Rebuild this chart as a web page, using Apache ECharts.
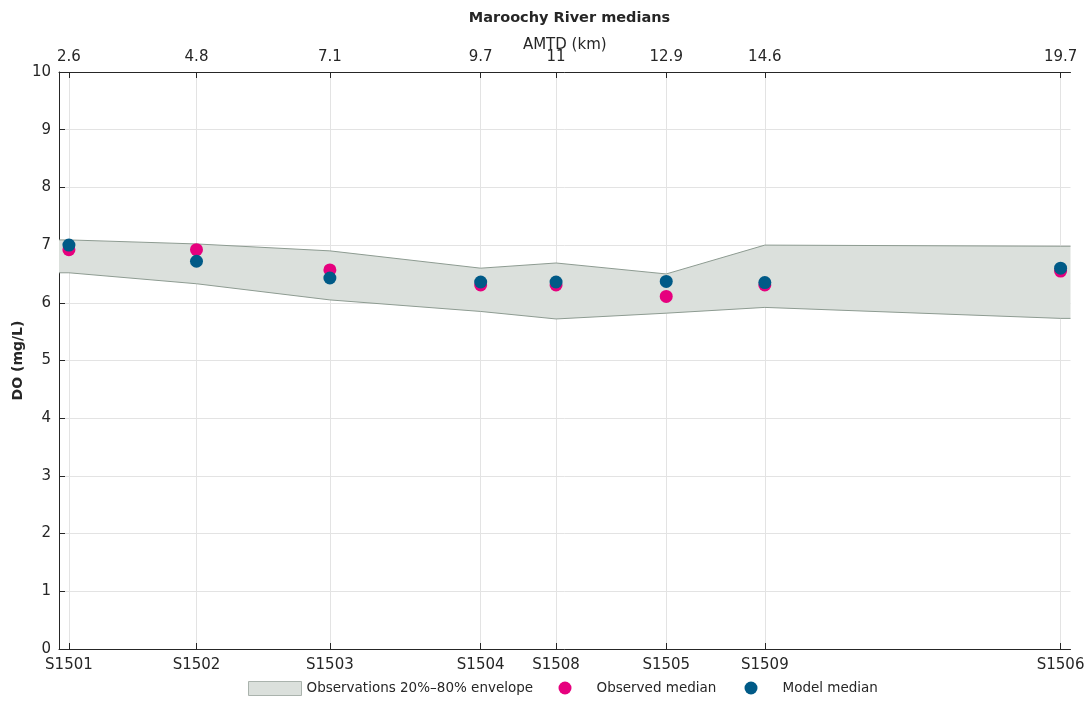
<!DOCTYPE html>
<html><head><meta charset="utf-8">
<script src="https://cdn.jsdelivr.net/npm/echarts@6/dist/echarts.min.js"></script>
<style>html,body{margin:0;padding:0;background:#fff}#c{width:1089px;height:702px}</style>
</head><body><div id="c"></div>
<script>
const sites = ['S1501','S1502','S1503','S1504','S1508','S1505','S1509','S1506'];
const amtd = [2.6, 4.8, 7.1, 9.7, 11, 12.9, 14.6, 19.7];
const envUpper = [7.09, 7.02, 6.90, 6.60, 6.69, 6.50, 7.00, 6.98];
const envLower = [6.52, 6.33, 6.05, 5.85, 5.72, 5.82, 5.92, 5.73];
const observedMedian = [6.92, 6.92, 6.57, 6.31, 6.31, 6.11, 6.31, 6.55];
const modelMedian = [7.00, 6.72, 6.43, 6.36, 6.36, 6.37, 6.35, 6.60];
const yTicks = [0,1,2,3,4,5,6,7,8,9,10];

const pad = (amtd[amtd.length-1]-amtd[0])*0.01;
const xMin = amtd[0]-pad, xMax = amtd[amtd.length-1]+pad;
const FONT = 'DejaVu Sans';
const TXT = '#262626';
const FS = 15;

// envelope extended flat to axis edges
const envX = [xMin].concat(amtd, [xMax]);
const envU = [envUpper[0]].concat(envUpper, [envUpper[envUpper.length-1]]);
const envL = [envLower[0]].concat(envLower, [envLower[envLower.length-1]]);

const chart = echarts.init(document.getElementById('c'), null, {renderer:'canvas'});
const siteOf = v => { const i = amtd.findIndex(a => Math.abs(a - v) < 1e-6); return i >= 0 ? sites[i] : ''; };

chart.setOption({
  animation:false,
  textStyle:{fontFamily:FONT},
  title:{text:'Maroochy River medians', left:564.5, textAlign:'center', top:6,
    textStyle:{fontFamily:FONT, fontSize:14.5, fontWeight:'bold', color:TXT}},
  grid:{left:59, right:18.5, top:72, bottom:53, containLabel:false, outerBoundsMode:'none'},
  xAxis:[{
    type:'value', position:'bottom', min:xMin, max:xMax,
    axisLine:{show:true, onZero:false, lineStyle:{color:'#262626', width:1}},
    axisTick:{show:true, inside:true, length:6, customValues:amtd, lineStyle:{color:'#262626'}},
    axisLabel:{inside:false, customValues:amtd, formatter:v=>siteOf(v), fontSize:FS, color:TXT, margin:9, fontFamily:FONT},
    splitLine:{show:true, lineStyle:{color:'#e3e3e3', width:1}}
  },{
    type:'value', position:'top', min:xMin, max:xMax,
    name:'AMTD (km)', nameLocation:'middle', nameGap:19, nameMoveOverlap:false,
    nameTextStyle:{fontSize:FS, color:TXT, fontFamily:FONT},
    axisLine:{show:true, onZero:false, lineStyle:{color:'#262626', width:1}},
    axisTick:{show:true, inside:true, length:6, customValues:amtd, lineStyle:{color:'#262626'}},
    axisLabel:{inside:false, customValues:amtd, formatter:v=>String(v), fontSize:FS, color:TXT, margin:7, fontFamily:FONT},
    splitLine:{show:false}
  }],
  yAxis:{
    type:'value', position:'left', min:0, max:10, interval:1,
    name:'DO (mg/L)', nameLocation:'middle', nameGap:34, nameRotate:90, nameMoveOverlap:false,
    nameTextStyle:{fontSize:14, fontWeight:'bold', color:TXT, fontFamily:FONT},
    axisLine:{show:true, onZero:false, lineStyle:{color:'#262626', width:1}},
    axisTick:{show:true, inside:true, length:6, lineStyle:{color:'#262626'}},
    axisLabel:{inside:false, fontSize:FS, color:TXT, margin:8, fontFamily:FONT, formatter:v=>yTicks.includes(v)?String(v):''},
    splitLine:{show:true, lineStyle:{color:'#e3e3e3', width:1}}
  },
  legend:[
    {data:[{name:'Observations 20%–80% envelope', icon:'rect', itemStyle:{color:'#dbe0dc', borderColor:'#aab3ad', borderWidth:1}}],
      left:248, top:681, padding:0, itemWidth:53, itemHeight:14, itemGap:0,
      textStyle:{fontSize:13.5, color:TXT, fontFamily:FONT}, selectedMode:false},
    {data:[{name:'Observed median', icon:'circle'}], left:558.5, top:681, padding:0, itemWidth:53, itemHeight:13, itemGap:0,
      textStyle:{fontSize:13.5, color:TXT, fontFamily:FONT}, selectedMode:false},
    {data:[{name:'Model median', icon:'circle'}], left:744.5, top:681, padding:0, itemWidth:53, itemHeight:13, itemGap:0,
      textStyle:{fontSize:13.5, color:TXT, fontFamily:FONT}, selectedMode:false}
  ],
  series:[
    {
      name:'Observations 20%–80% envelope', type:'custom', xAxisIndex:0, yAxisIndex:0,
      clip:true, silent:true,
      itemStyle:{color:'#dbe0dc', borderColor:'#8d9b91', borderWidth:1},
      data:[[amtd[0], envUpper[0]]],
      encode:{x:0, y:1},
      renderItem:function(params, api){
        const up = envX.map((x,i)=>api.coord([x, envU[i]]));
        const lo = envX.map((x,i)=>api.coord([x, envL[i]]));
        const poly = up.concat(lo.slice().reverse());
        return {type:'group', children:[
          {type:'polygon', shape:{points:poly}, style:{fill:'#dbe0dc', stroke:null}},
          {type:'polyline', shape:{points:up}, style:{stroke:'#8d9b91', lineWidth:1, fill:null}},
          {type:'polyline', shape:{points:lo}, style:{stroke:'#8d9b91', lineWidth:1, fill:null}}
        ]};
      },
      z:1
    },
    {
      name:'Observed median', type:'scatter', symbol:'circle', symbolSize:13,
      itemStyle:{color:'#e6007e', opacity:1},
      data:amtd.map((x,i)=>[x, observedMedian[i]]), z:3
    },
    {
      name:'Model median', type:'scatter', symbol:'circle', symbolSize:13,
      itemStyle:{color:'#005a87', opacity:1},
      data:amtd.map((x,i)=>[x, modelMedian[i]]), z:4
    }
  ]
});
</script></body></html>
